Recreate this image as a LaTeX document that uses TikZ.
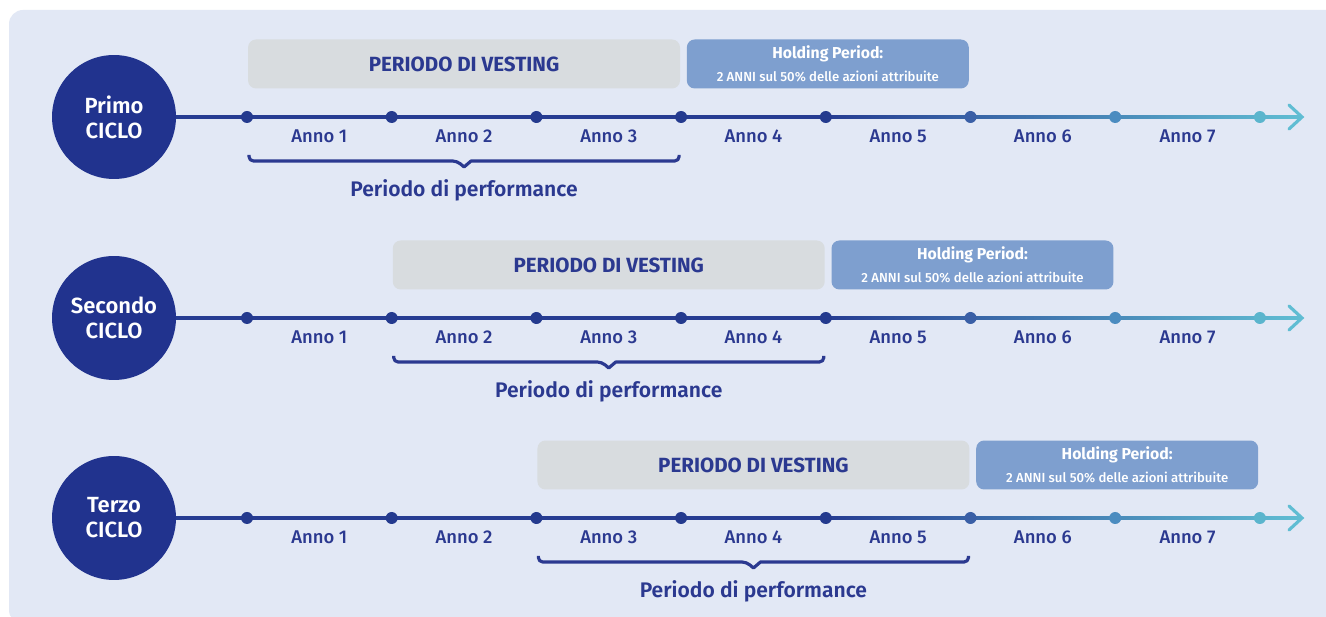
\documentclass[tikz,border=0pt]{standalone}
\usepackage{fontspec}
\setmainfont{Fira Sans}
\newfontfamily\medfont{Fira Sans Medium}
\newfontfamily\semifont{Fira Sans SemiBold}

\definecolor{bgblue}{HTML}{E2E8F5}
\definecolor{cicloblue}{HTML}{21338E}
\definecolor{textblue}{HTML}{2B3990}
\definecolor{linedark}{HTML}{263C92}
\definecolor{linecyan}{HTML}{60BDD3}
\definecolor{dotA}{HTML}{243A8E}
\definecolor{dotB}{HTML}{3A5FA6}
\definecolor{dotC}{HTML}{4B8CC0}
\definecolor{dotD}{HTML}{5BB5CD}
\definecolor{vestgray}{HTML}{D8DCDF}
\definecolor{holdblue}{HTML}{7E9FCF}

\tikzset{
  ciclo/.style={circle, fill=cicloblue, text=white, minimum size=2.48cm, inner sep=0pt,
    align=center, font=\semifont\fontsize{12.5}{14.2}\selectfont},
  tline/.style={linedark, line width=1.9pt},
  tarrow/.style={linecyan, line width=1.8pt, line cap=round, line join=miter},
  dot/.style={circle, minimum size=0.24cm, inner sep=0pt},
  anno/.style={text=textblue, font=\medfont\fontsize{10.5}{12}\selectfont},
  vest/.style={fill=vestgray, rounded corners=4.5pt, minimum width=8.64cm, minimum height=0.98cm,
    text=textblue, font=\bfseries\fontsize{11.7}{13}\selectfont},
  hold/.style={fill=holdblue, rounded corners=4.5pt, minimum width=5.64cm, minimum height=0.98cm,
    text=white, align=center, inner sep=0pt},
  brace/.style={textblue, line width=1.8pt, line join=round},
  perf/.style={text=textblue, font=\semifont\fontsize{12}{14}\selectfont}
}

\begin{document}
\begin{tikzpicture}[x=0.02cm,y=-0.02cm]

%BACKGROUND
\useasboundingbox (0,0) rectangle (1326,617);
\fill[white] (0,0) rectangle (1326,617);
\fill[bgblue, rounded corners=8pt] (9,10) rectangle (1345,624);

%CYCLES
\foreach \r/\y/\s/\n in {1/117/0/Primo, 2/318/1/Secondo, 3/518/2/Terzo}{
  \pgfmathsetmacro{\xv}{247+144.7*(\s+1.5)}
  \pgfmathsetmacro{\xh}{247+144.7*(\s+4)+2}
  \pgfmathsetmacro{\xa}{247+144.7*\s}
  \pgfmathsetmacro{\xb}{247+144.7*(\s+3)}

  % circle
  \node[ciclo] (c\r) at (114,\y) {\n\\CICLO};

  % timeline
  \foreach \k in {0,...,7}
    \coordinate (p\r-\k) at ({247+144.7*\k},\y);
  \draw[tline] (c\r) -- (p\r-4);
  \shade[left color=linedark, right color=linecyan] (825,{\y-1.6}) rectangle (1300,{\y+1.6});
  \draw[tarrow] (1289,{\y-12}) -- (1302,\y) -- (1289,{\y+12});
  \foreach \k/\dc in {0/dotA,1/dotA,2/dotA,3/dotA,4/dotA,5/dotB,6/dotC,7/dotD}
    \node[dot, fill=\dc] (d\r-\k) at (p\r-\k) {};

  % years
  \foreach \k in {1,...,7}
    \node[anno] (a\r-\k) at ({247+144.7*(\k-0.5)},{\y+19}) {Anno \k};

  % vesting and holding
  \node[vest] (v\r) at (\xv,{\y-53}) {PERIODO DI VESTING};
  \node[hold] (h\r) at (\xh,{\y-53})
    {{\bfseries\fontsize{9}{10}\selectfont Holding Period:}\\[1pt]
     {\medfont\fontsize{7.5}{8}\selectfont 2 ANNI sul 50\% delle azioni attribuite}};

  % performance
  \draw[brace] ({\xa+2},{\y+38}) [rounded corners=2.5pt] |- ({\xv-7},{\y+44}) [sharp corners] -- (\xv,{\y+50})
    -- ({\xv+7},{\y+44}) [rounded corners=2.5pt] -| ({\xb-2},{\y+38});
  \node[perf] (f\r) at (\xv,{\y+73}) {Periodo di performance};
}

\end{tikzpicture}
\end{document}
